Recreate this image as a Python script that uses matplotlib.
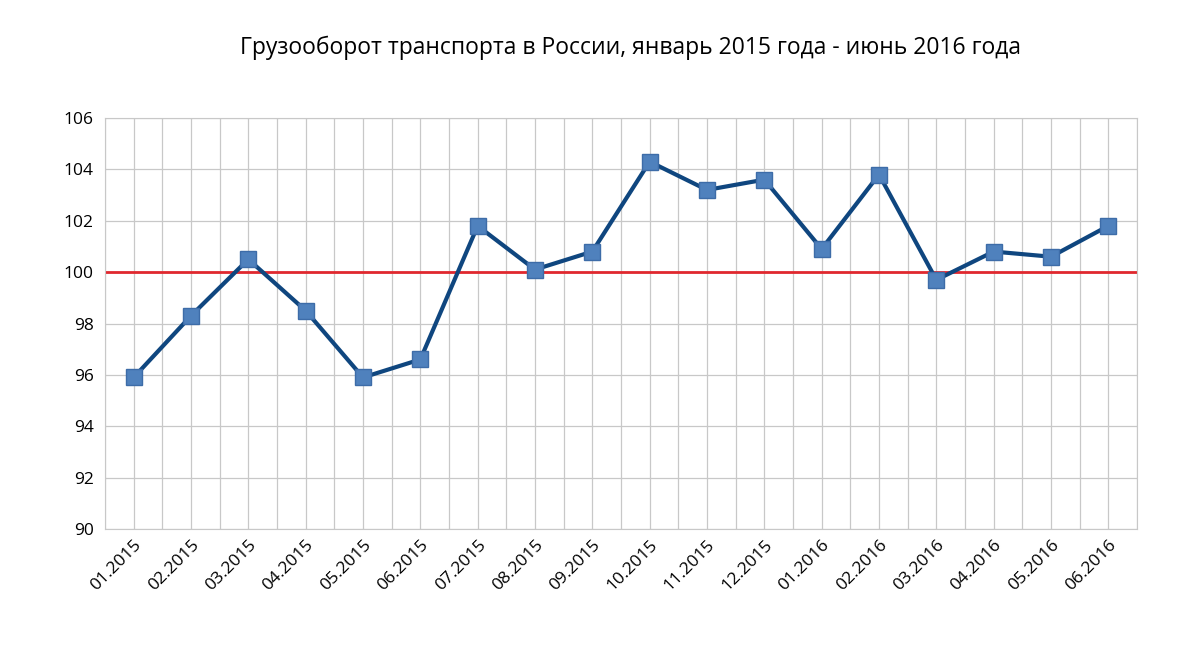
import matplotlib
matplotlib.use("Agg")
import matplotlib.pyplot as plt
import numpy as np

labels = ["01.2015","02.2015","03.2015","04.2015","05.2015","06.2015","07.2015","08.2015","09.2015",
          "10.2015","11.2015","12.2015","01.2016","02.2016","03.2016","04.2016","05.2016","06.2016"]
values = [95.9, 98.3, 100.5, 98.5, 95.9, 96.6, 101.8, 100.1, 100.8,
          104.3, 103.2, 103.6, 100.9, 103.8, 99.7, 100.8, 100.6, 101.8]
baseline = 100

plt.rcParams['font.family'] = ['Open Sans', 'DejaVu Sans']
fig = plt.figure(figsize=(11.85, 6.5), dpi=100)
ax = fig.add_axes([105/1185, 1-529/650, (1137-105)/1185, (529-118)/650])
x = np.arange(len(values))
ax.set_xlim(-0.5, len(values)-0.5)
ax.set_ylim(90, 106)
ax.set_yticks(np.arange(90, 107, 2))
ax.set_xticks(x)
ax.set_xticks(np.arange(-0.5, len(values), 1), minor=True)
ax.set_xticklabels(labels, rotation=45, ha='right', rotation_mode='anchor', fontsize=12.5)
ax.tick_params(axis='y', labelsize=12.5, length=0, pad=8)
ax.tick_params(axis='x', which='both', length=0, pad=6)
ax.grid(True, which='both', color='#c8c8c8', linewidth=0.9)
ax.set_axisbelow(True)
for s in ax.spines.values():
    s.set_color('#c8c8c8')
ax.axhline(baseline, color='#e0282e', linewidth=2, zorder=2)
ax.plot(x, values, color='#0f467f', linewidth=3, marker='s', markersize=12,
        markerfacecolor='#4f81bd', markeredgecolor='#3d6ca8', zorder=3)
fig.text(0.532, 1-48/650, "Грузооборот транспорта в России, январь 2015 года - июнь 2016 года",
         ha='center', va='center', fontsize=16.5)
fig.savefig("out.png", dpi=100)
